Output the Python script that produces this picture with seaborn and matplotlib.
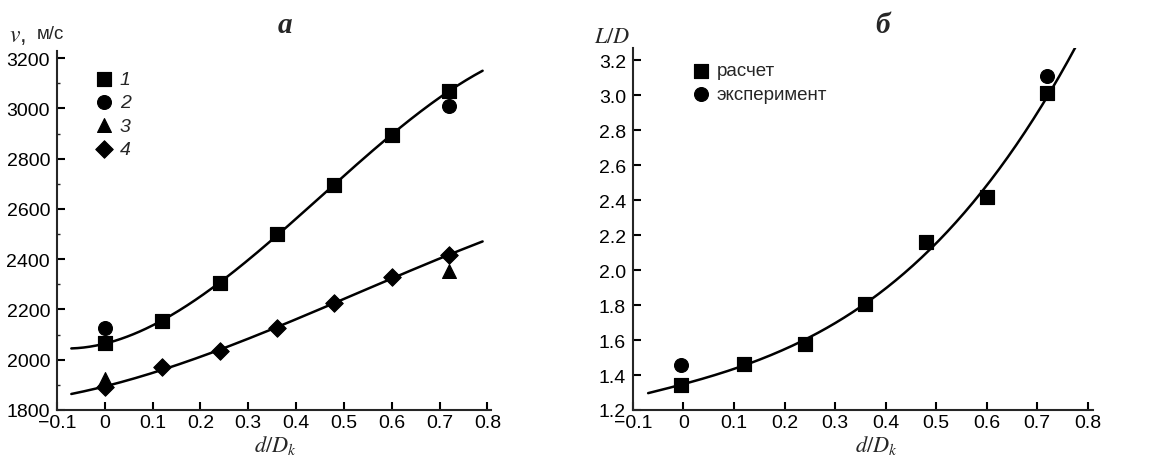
import numpy as np
import pandas as pd
import matplotlib
matplotlib.use('Agg')
import matplotlib.pyplot as plt
from matplotlib.ticker import MultipleLocator, FormatStrFormatter
import seaborn as sns

sns.set_style('ticks')
plt.rcParams['font.family'] = ['Liberation Sans', 'DejaVu Sans']
plt.rcParams['mathtext.fontset'] = 'stix'

# ---- data ----
x_a = [0.0, 0.12, 0.24, 0.36, 0.48, 0.60, 0.72]
v_1 = [2065, 2155, 2305, 2500, 2695, 2895, 3070]
v_4 = [1890, 1970, 2035, 2125, 2225, 2330, 2415]
x_2 = [0.0, 0.72]
v_2 = [2125, 3010]
x_3 = [0.0, 0.72]
v_3 = [1925, 2355]

x_b = [-0.005, 0.12, 0.24, 0.36, 0.48, 0.60, 0.72]
ld_calc = [1.345, 1.465, 1.575, 1.805, 2.16, 2.42, 3.01]
x_b_exp = [-0.005, 0.72]
ld_exp = [1.455, 3.11]

x_ticks = [-0.1, 0, 0.1, 0.2, 0.3, 0.4, 0.5, 0.6, 0.7, 0.8]
x_ticklabels = ['\u22120.1', '0', '0.1', '0.2', '0.3', '0.4', '0.5', '0.6', '0.7', '0.8']

fig = plt.figure(figsize=(11.58, 4.56), dpi=100)
ax1 = fig.add_axes([0.0492, 0.0987, 0.375, 0.787])
ax2 = fig.add_axes([0.5466, 0.0987, 0.397, 0.7939])

k = 'black'

# ---- panel a ----
xx = np.linspace(-0.07, 0.79, 200)
fit1 = np.polyval(np.polyfit(x_a, v_1, 3), xx)
fit4 = np.polyval(np.polyfit(x_a, v_4, 3), xx)
sns.lineplot(x=xx, y=fit1, ax=ax1, color=k, lw=1.8)
sns.lineplot(x=xx, y=fit4, ax=ax1, color=k, lw=1.8)
sns.scatterplot(x=x_a, y=v_1, ax=ax1, marker='s', s=110, color=k, edgecolor=k, label='1', zorder=3)
sns.scatterplot(x=x_2, y=v_2, ax=ax1, marker='o', s=100, color=k, edgecolor=k, label='2', zorder=3)
sns.scatterplot(x=x_3, y=v_3, ax=ax1, marker='^', s=100, color=k, edgecolor=k, label='3', zorder=3)
sns.scatterplot(x=x_a, y=v_4, ax=ax1, marker='D', s=80, color=k, edgecolor=k, label='4', zorder=3)

ax1.set_xlim(-0.1, 0.808)
ax1.set_ylim(1800, 3228)
ax1.set_xticks(x_ticks)
ax1.set_xticklabels(x_ticklabels)
ax1.yaxis.set_major_locator(MultipleLocator(200))
ax1.yaxis.set_minor_locator(MultipleLocator(100))
ax1.legend(loc='upper left', bbox_to_anchor=(0.055, 0.969), frameon=False,
           handletextpad=0.0, handlelength=1.6, labelspacing=0.3, borderaxespad=0,
           prop={'size': 14, 'style': 'italic'})

# ---- panel b ----
xb = np.linspace(-0.07, 0.778, 200)
fitb = np.polyval(np.polyfit(x_b, ld_calc, 3), xb)
sns.lineplot(x=xb, y=fitb, ax=ax2, color=k, lw=1.8)
sns.scatterplot(x=x_b, y=ld_calc, ax=ax2, marker='s', s=110, color=k, edgecolor=k, label='расчет', zorder=3)
sns.scatterplot(x=x_b_exp, y=ld_exp, ax=ax2, marker='o', s=100, color=k, edgecolor=k, label='эксперимент', zorder=3)

ax2.set_xlim(-0.1, 0.81)
ax2.set_ylim(1.2, 3.27)
ax2.set_xticks(x_ticks)
ax2.set_xticklabels(x_ticklabels)
ax2.yaxis.set_major_locator(MultipleLocator(0.2))
ax2.yaxis.set_major_formatter(FormatStrFormatter('%.1f'))
ax2.legend(loc='upper left', bbox_to_anchor=(0.1, 0.981), frameon=False,
           handletextpad=0.0, handlelength=1.6, labelspacing=0.35, borderaxespad=0,
           prop={'size': 13.5})

for ax in (ax1, ax2):
    sns.despine(ax=ax)
    ax.spines['left'].set_linewidth(1.5)
    ax.spines['bottom'].set_linewidth(1.5)
    ax.tick_params(axis='both', which='major', direction='in', length=6, width=1.5,
                   labelsize=14, colors=k, pad=3)
    ax.tick_params(axis='y', which='major', pad=5)
    ax.tick_params(axis='y', which='minor', direction='in', length=2.5, width=1)
    ax.grid(False)

# titles and axis labels as free text
fig.text(0.246, 0.945, 'а', fontsize=21, fontweight='bold', style='italic',
         family='Liberation Serif', ha='center', va='center')
fig.text(0.762, 0.945, 'б', fontsize=21, fontweight='bold', style='italic',
         family='Liberation Serif', ha='center', va='center')
fig.text(0.008, 0.922, '$v$,', fontsize=17, ha='left', va='center')
fig.text(0.032, 0.925, 'м/с', fontsize=13.5, ha='left', va='center')
fig.text(0.513, 0.918, '$L/D$', fontsize=16, ha='left', va='center')
fig.text(0.238, 0.022, '$d/D_k$', fontsize=16, ha='center', va='center')
fig.text(0.757, 0.022, '$d/D_k$', fontsize=16, ha='center', va='center')

fig.savefig('out.png', dpi=100, facecolor='white')
